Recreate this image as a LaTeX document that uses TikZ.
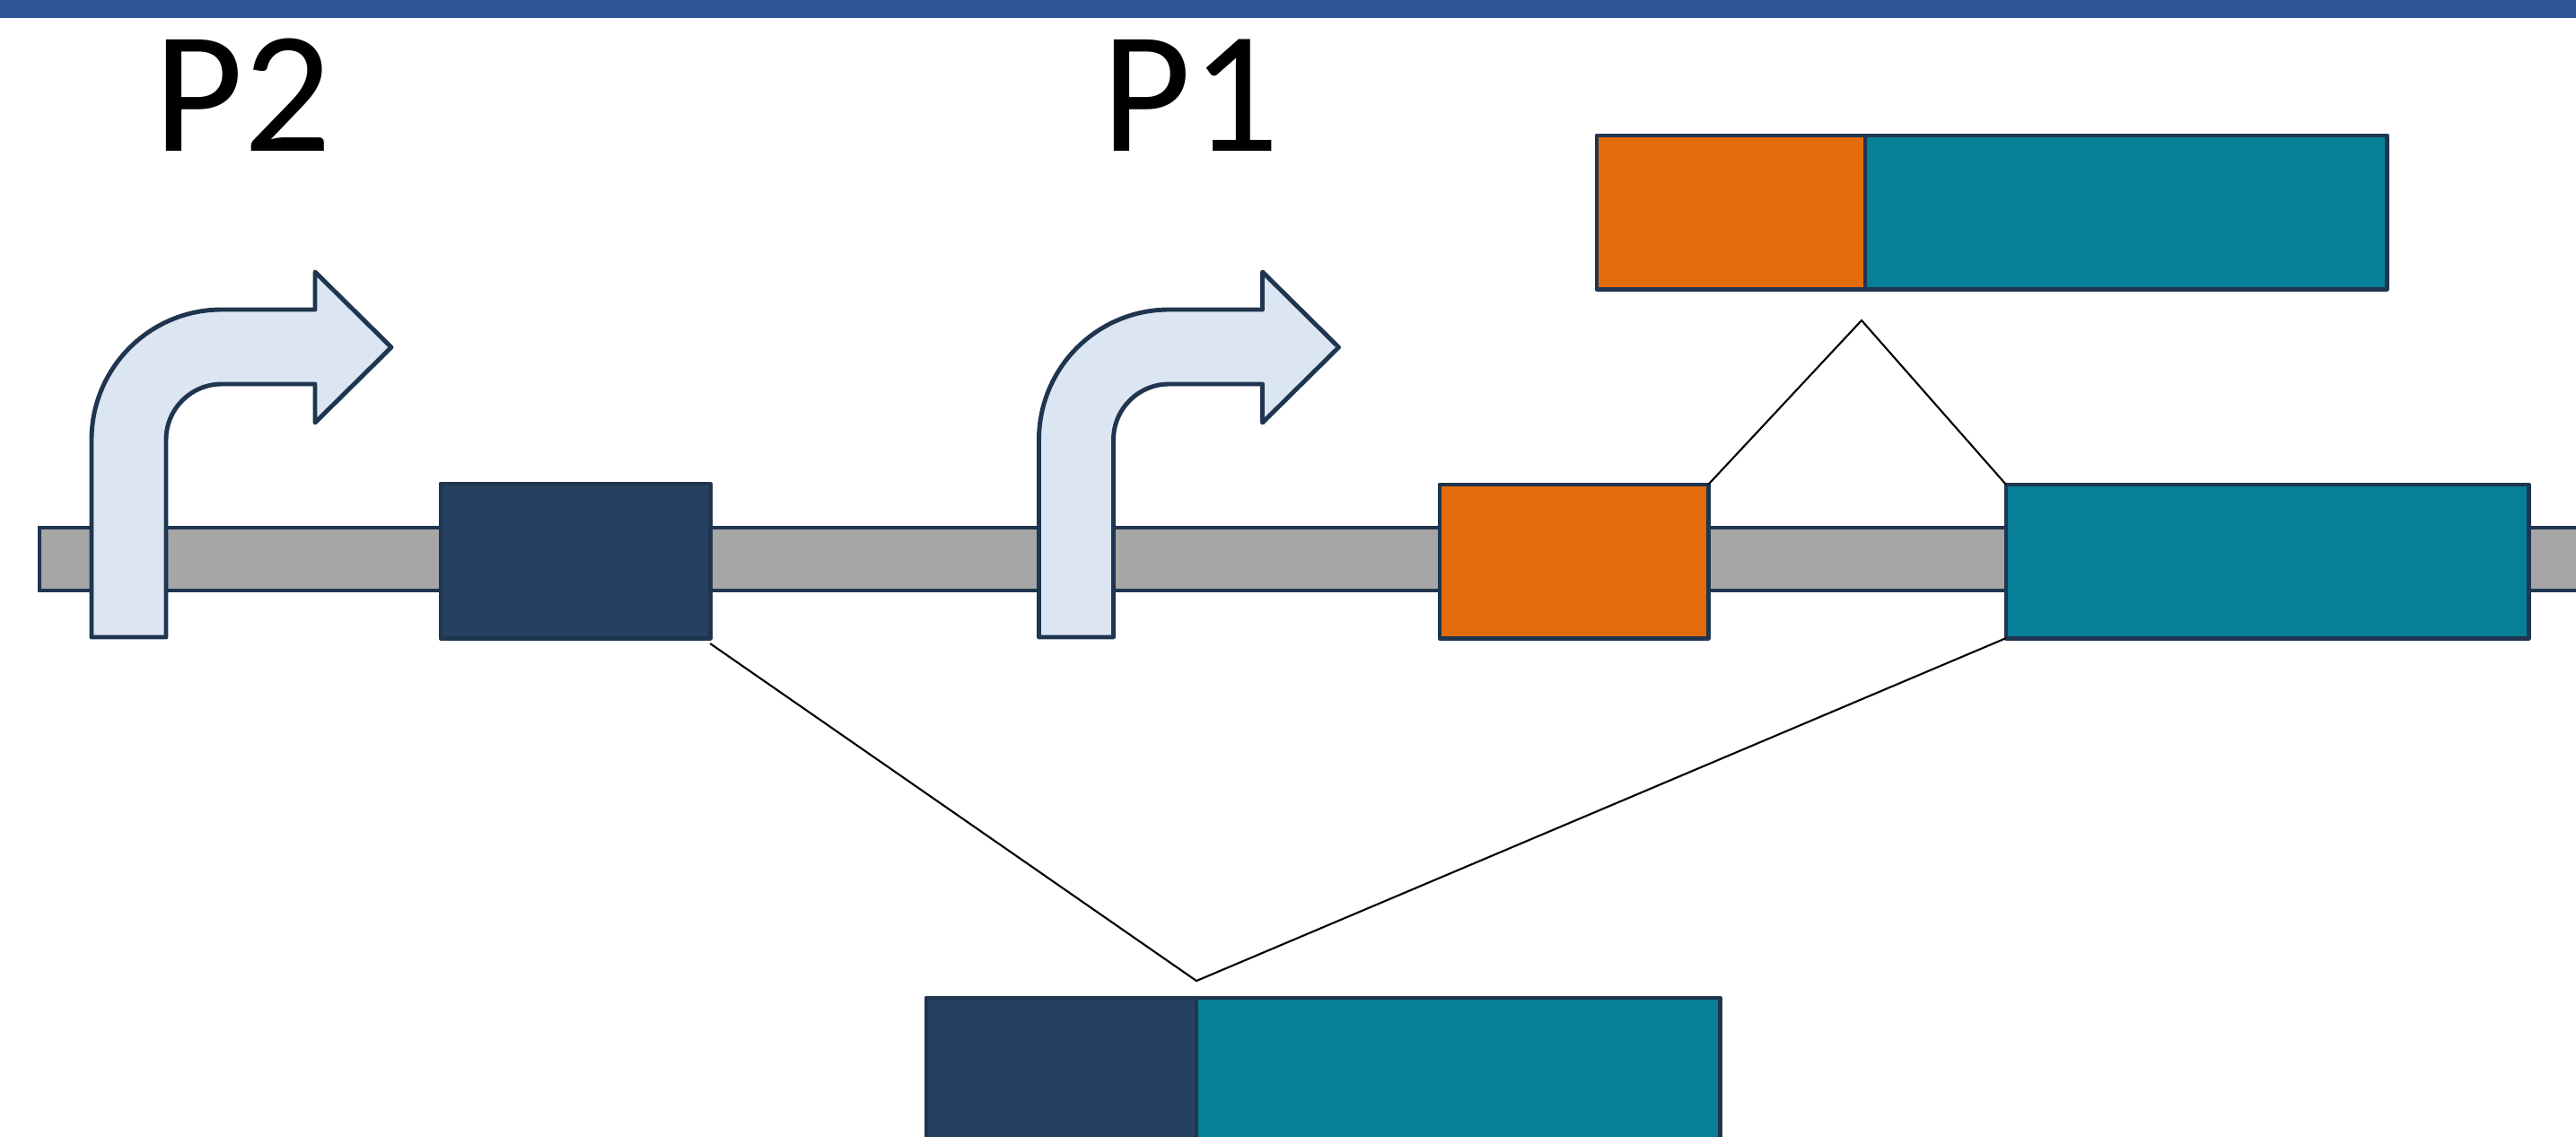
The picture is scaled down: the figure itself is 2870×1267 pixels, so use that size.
\documentclass[tikz,border=0pt]{standalone}
\usepackage{fontspec}
\setmainfont{Carlito}
\definecolor{topbar}{HTML}{2F5597}
\definecolor{navy}{HTML}{1F3550}
\definecolor{darkex}{HTML}{264061}
\definecolor{orangeex}{HTML}{E36C0A}
\definecolor{tealex}{HTML}{077F97}
\definecolor{intron}{HTML}{A6A6A6}
\definecolor{arrowfill}{HTML}{DCE6F2}
\tikzset{
  exon/.style={draw=navy, line width=1.4pt, line join=round, inner sep=0pt, outer sep=0pt, rectangle, anchor=north west},
  splice/.style={draw=black, line width=0.6pt},
  plabel/.style={font=\fontsize{55}{60}\selectfont, anchor=base, inner sep=0pt},
  promoter/.style={draw=navy, line width=1.4pt, line join=round, fill=arrowfill}
}
\begin{document}
\begin{tikzpicture}[x=0.01cm, y=-0.01cm]
\useasboundingbox (0,0) rectangle (2870,1267);
\clip (0,0) rectangle (2870,1267);
% top band
\fill[topbar] (0,0) rectangle (2870,20);
% labels
\node[plabel] (p2) at (270,169) {P2};
\node[plabel] (p1) at (1326,169) {P1};
% intron bar
\draw[draw=navy, line width=1.4pt, fill=intron] (44,588) rectangle (2900,658);
% promoter arrows
\foreach \dx in {0,1055.5}{
\begin{scope}[xshift=\dx*0.01cm]
\draw[promoter] (102,710) -- (102,490)
  .. controls (102,409.9) and (166.9,345) .. (247,345)
  -- (351,345) -- (351,303) -- (436,387) -- (351,471) -- (351,428) -- (247,428)
  .. controls (212.8,428) and (185,455.8) .. (185,490)
  -- (185,710) -- cycle;
\end{scope}
}
% genomic exons
\node[exon, fill=darkex, minimum width=3.00cm, minimum height=1.72cm] (e2) at (491,539) {};
\node[exon, fill=orangeex, minimum width=2.99cm, minimum height=1.71cm] (e1) at (1604,540) {};
\node[exon, fill=tealex, minimum width=5.82cm, minimum height=1.71cm] (e3) at (2235,540) {};
% P1 transcript
\node[exon, fill=orangeex, minimum width=2.99cm, minimum height=1.71cm] (t1a) at (1779,151) {};
\node[exon, fill=tealex, minimum width=5.81cm, minimum height=1.71cm] (t1b) at (2078,151) {};
% P2 transcript
\node[exon, fill=darkex, minimum width=3.01cm, minimum height=1.71cm] (t2a) at (1032,1112) {};
\node[exon, fill=tealex, minimum width=5.83cm, minimum height=1.71cm] (t2b) at (1333,1112) {};
% splice connectors
\coordinate (apexTop) at (2074,357);
\coordinate (apexBot) at (1333,1093);
\draw[splice] (e1.north east) -- (apexTop) -- (e3.north west);
\draw[splice] ([yshift=-0.06cm]e2.south east) -- (apexBot) -- (e3.south west);
\end{tikzpicture}
\end{document}
